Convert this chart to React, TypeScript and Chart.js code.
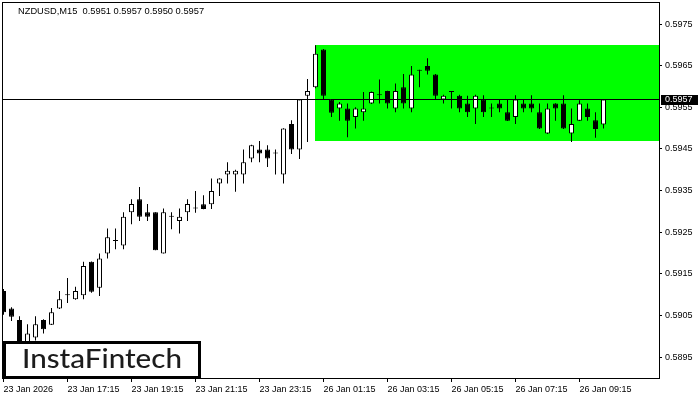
import React, { useEffect, useRef } from "react";
import { Chart, registerables } from "chart.js";

Chart.register(...registerables);

const symbol = "NZDUSD,M15";

const opens = [
  0.59109, 0.59067, 0.59039, 0.58985, 0.58997, 0.59039, 0.59028, 0.59067, 0.59099, 0.59089,
  0.59099, 0.59179, 0.59117, 0.59199, 0.59229, 0.59218, 0.59298, 0.59329, 0.59298, 0.59298,
  0.59199, 0.59287, 0.59277, 0.59298, 0.59307, 0.59317, 0.59317, 0.59367, 0.59389, 0.59389,
  0.59389, 0.59427, 0.59449, 0.59449, 0.59439, 0.59389, 0.5951, 0.59449, 0.59578, 0.59598,
  0.59689, 0.59569, 0.59547, 0.59547, 0.59527, 0.59538, 0.59559, 0.59579, 0.59589, 0.59547,
  0.59598, 0.59547, 0.59638, 0.59649, 0.59629, 0.59569, 0.59587, 0.59578, 0.59559, 0.59547,
  0.59569, 0.59547, 0.59559, 0.59538, 0.59527, 0.59559, 0.59559, 0.59538, 0.59487, 0.59559,
  0.59559, 0.59487, 0.59518, 0.59547, 0.59519, 0.59509,
];
const highs = [
  0.59114, 0.5907, 0.59048, 0.59029, 0.59048, 0.59041, 0.59068, 0.59109, 0.5914, 0.59119,
  0.59179, 0.5918, 0.59199, 0.59259, 0.59259, 0.59298, 0.59329, 0.59359, 0.59318, 0.59298,
  0.59307, 0.59298, 0.59307, 0.59329, 0.59349, 0.59339, 0.59379, 0.5938, 0.59418, 0.594,
  0.59449, 0.5946, 0.59469, 0.59459, 0.59449, 0.595, 0.59519, 0.5957, 0.59618, 0.59699,
  0.5969, 0.5957, 0.59563, 0.59559, 0.5955, 0.59587, 0.59588, 0.59617, 0.5959, 0.59607,
  0.5963, 0.59649, 0.5964, 0.59668, 0.5963, 0.5958, 0.59588, 0.5958, 0.59578, 0.5958,
  0.59579, 0.59559, 0.59569, 0.59569, 0.59579, 0.59569, 0.59579, 0.59559, 0.59559, 0.5956,
  0.59579, 0.59547, 0.59567, 0.59559, 0.59538, 0.5957,
];
const lows = [
  0.59052, 0.59037, 0.58965, 0.58975, 0.5899, 0.59007, 0.59027, 0.59066, 0.5908, 0.59088,
  0.59089, 0.59105, 0.59097, 0.59187, 0.59209, 0.59209, 0.59269, 0.59277, 0.59277, 0.59207,
  0.59199, 0.59257, 0.59247, 0.59277, 0.59297, 0.59305, 0.59306, 0.59337, 0.59367, 0.59347,
  0.59367, 0.59418, 0.59418, 0.59407, 0.59389, 0.59367, 0.59438, 0.59426, 0.59467, 0.59596,
  0.59569, 0.59527, 0.59518, 0.59478, 0.59499, 0.59518, 0.59558, 0.59559, 0.59547, 0.59538,
  0.59547, 0.59538, 0.59598, 0.59629, 0.59569, 0.59559, 0.59547, 0.59538, 0.59527, 0.5951,
  0.59527, 0.59527, 0.59538, 0.59517, 0.5951, 0.59538, 0.59538, 0.59498, 0.59486, 0.59518,
  0.59498, 0.59467, 0.59517, 0.59518, 0.59477, 0.59499,
];
const closes = [
  0.59058, 0.59047, 0.5898, 0.59007, 0.59029, 0.59017, 0.59058, 0.59089, 0.59099, 0.59109,
  0.59169, 0.59107, 0.59187, 0.59238, 0.59229, 0.59287, 0.59318, 0.59287, 0.59287, 0.59207,
  0.59298, 0.59287, 0.59287, 0.59318, 0.59307, 0.59306, 0.59349, 0.59379, 0.59398, 0.59398,
  0.59418, 0.59459, 0.59439, 0.59427, 0.59439, 0.59499, 0.59449, 0.59569, 0.59589, 0.59679,
  0.59578, 0.59537, 0.59559, 0.59518, 0.59547, 0.59547, 0.59587, 0.59579, 0.59559, 0.59589,
  0.59559, 0.59629, 0.59638, 0.59638, 0.59578, 0.59578, 0.59587, 0.59547, 0.59538, 0.59578,
  0.59538, 0.59547, 0.59547, 0.59518, 0.59569, 0.59547, 0.59547, 0.59499, 0.59547, 0.59547,
  0.59499, 0.5951, 0.59559, 0.59527, 0.59498, 0.59569,
];

const timeLabels = [
  "23 Jan 2026", "23 Jan 17:15", "23 Jan 19:15", "23 Jan 21:15", "23 Jan 23:15",
  "26 Jan 01:15", "26 Jan 03:15", "26 Jan 05:15", "26 Jan 07:15", "26 Jan 09:15",
];
const timeTickBars = [0, 8, 16, 24, 32, 40, 48, 56, 64, 72];

const priceTicks = [0.5895, 0.5905, 0.5915, 0.5925, 0.5935, 0.5945, 0.5955, 0.5965, 0.5975];

const currentPrice = 0.5957;
const zoneStartBar = 39;
const zoneHigh = 0.597;
const zoneLow = 0.5947;

const brand = "InstaFintech";

const AXIS_FAMILY = `"Liberation Sans", Arial, sans-serif`;

export default function App() {
  const ref = useRef<HTMLCanvasElement | null>(null);

  useEffect(() => {
    document.body.style.margin = "0";
    const canvas = ref.current;
    if (!canvas) return;
    const idx = opens.map((_, i) => i);
    const bodies = idx.map((i) => ({
      x: i,
      y: [Math.min(opens[i], closes[i]), Math.max(opens[i], closes[i])],
    }));
    const wicks = idx.map((i) => ({ x: i, y: [lows[i], highs[i]] }));
    const last = opens.length - 1;
    const header = `${symbol}  ${opens[last].toFixed(4)} ${highs[last].toFixed(4)} ${lows[last].toFixed(4)} ${closes[last].toFixed(4)}`;

    const overlay = {
      id: "overlay",
      beforeDatasetsDraw(chart: any) {
        const { ctx, chartArea, scales } = chart;
        const x0 = Math.floor(scales.x.getPixelForValue(zoneStartBar));
        const yTop = Math.round(scales.y.getPixelForValue(zoneHigh));
        const yBot = Math.round(scales.y.getPixelForValue(zoneLow));
        ctx.save();
        ctx.fillStyle = "#00ff00";
        ctx.fillRect(x0, yTop, chartArea.right - x0, yBot - yTop);
        ctx.restore();
      },
      afterDatasetsDraw(chart: any) {
        const { ctx, chartArea, scales } = chart;
        const y = Math.floor(scales.y.getPixelForValue(currentPrice)) + 0.5;
        ctx.save();
        ctx.strokeStyle = "#000";
        ctx.lineWidth = 1;
        ctx.beginPath();
        ctx.moveTo(chartArea.left, y);
        ctx.lineTo(chartArea.right, y);
        ctx.stroke();
        ctx.restore();
      },
      afterDraw(chart: any) {
        const { ctx, chartArea, scales } = chart;
        ctx.save();
        ctx.strokeStyle = "#000";
        ctx.lineWidth = 1;
        ctx.strokeRect(
          chartArea.left + 0.5,
          chartArea.top + 0.5,
          chartArea.right - chartArea.left,
          chartArea.bottom - chartArea.top
        );
        ctx.fillStyle = "#000";
        ctx.font = `9.3px ${AXIS_FAMILY}`;
        ctx.textAlign = "left";
        ctx.textBaseline = "middle";
        ctx.fillText(header, 18, 11);
        const py = Math.floor(scales.y.getPixelForValue(currentPrice)) + 0.5;
        ctx.fillStyle = "#000";
        ctx.fillRect(chartArea.right + 2, Math.round(py - 5), 37, 10);
        ctx.fillStyle = "#fff";
        ctx.font = `9px ${AXIS_FAMILY}`;
        ctx.fillText(currentPrice.toFixed(4), chartArea.right + 6, py);
        ctx.fillStyle = "#fff";
        ctx.fillRect(4, 342, 196, 36);
        ctx.strokeStyle = "#000";
        ctx.lineWidth = 3;
        ctx.strokeRect(4.5, 342.5, 195, 35);
        ctx.fillStyle = "#1c1c1c";
        ctx.font = `500 26px Lato, "Noto Sans", sans-serif`;
        ctx.textBaseline = "alphabetic";
        const w = ctx.measureText(brand).width;
        ctx.translate(22, 368);
        ctx.scale(160 / w, 1);
        ctx.fillText(brand, 0, 0);
        ctx.restore();
      },
    };

    const tickFont = { family: AXIS_FAMILY, size: 9 };

    const chart = new Chart(canvas, {
      type: "bar",
      data: {
        datasets: [
          {
            label: "body",
            data: bodies as any,
            backgroundColor: idx.map((i) => (closes[i] >= opens[i] ? "#ffffff" : "#000000")),
            borderColor: "#000000",
            borderWidth: 1,
            borderSkipped: false,
            barThickness: 5,
            minBarLength: 1,
            grouped: false,
            inflateAmount: 0,
            order: 0,
          } as any,
          {
            label: "wick",
            data: wicks as any,
            backgroundColor: "#000000",
            borderWidth: 0,
            barThickness: 1,
            grouped: false,
            inflateAmount: 0,
            order: 1,
          } as any,
        ],
      },
      options: {
        animation: false,
        responsive: false,
        maintainAspectRatio: false,
        layout: { padding: { left: 2, top: 2, right: 0, bottom: 0 } },
        plugins: { legend: { display: false }, tooltip: { enabled: false } },
        scales: {
          x: {
            type: "linear",
            offset: false,
            bounds: "data",
            min: -0.1875,
            max: 81.9375,
            afterBuildTicks: (s: any) => {
              s.ticks = timeTickBars.map((v) => ({ value: v }));
            },
            afterFit: (s: any) => {
              s.height = 22;
              s.paddingLeft = 0;
              s.paddingRight = 0;
              s.paddingTop = 0;
              s.paddingBottom = 0;
            },
            grid: { offset: false, drawOnChartArea: false, drawTicks: true, tickLength: 4, color: "#000" },
            border: { display: false },
            ticks: {
              align: "start",
              maxRotation: 0,
              autoSkip: false,
              padding: 2,
              color: "#000",
              font: tickFont,
              callback: (v: any) => {
                const k = timeTickBars.indexOf(Number(v));
                return k >= 0 ? timeLabels[k] : "";
              },
            },
          } as any,
          y: {
            type: "linear",
            position: "right",
            min: 0.589,
            max: 0.59803,
            afterBuildTicks: (s: any) => {
              s.ticks = priceTicks.map((v) => ({ value: v }));
            },
            afterFit: (s: any) => {
              s.width = 41;
              s.paddingLeft = 0;
              s.paddingRight = 0;
              s.paddingTop = 0;
              s.paddingBottom = 0;
            },
            grid: { drawOnChartArea: false, drawTicks: true, tickLength: 3, color: "#000" },
            border: { display: false },
            ticks: {
              padding: 3,
              color: "#000",
              font: tickFont,
              autoSkip: false,
              callback: (v: any) => Number(v).toFixed(4),
            },
          } as any,
        },
      },
      plugins: [overlay],
    });
    return () => chart.destroy();
  }, []);

  return <canvas ref={ref} width={700} height={400} style={{ display: "block" }} />;
}
